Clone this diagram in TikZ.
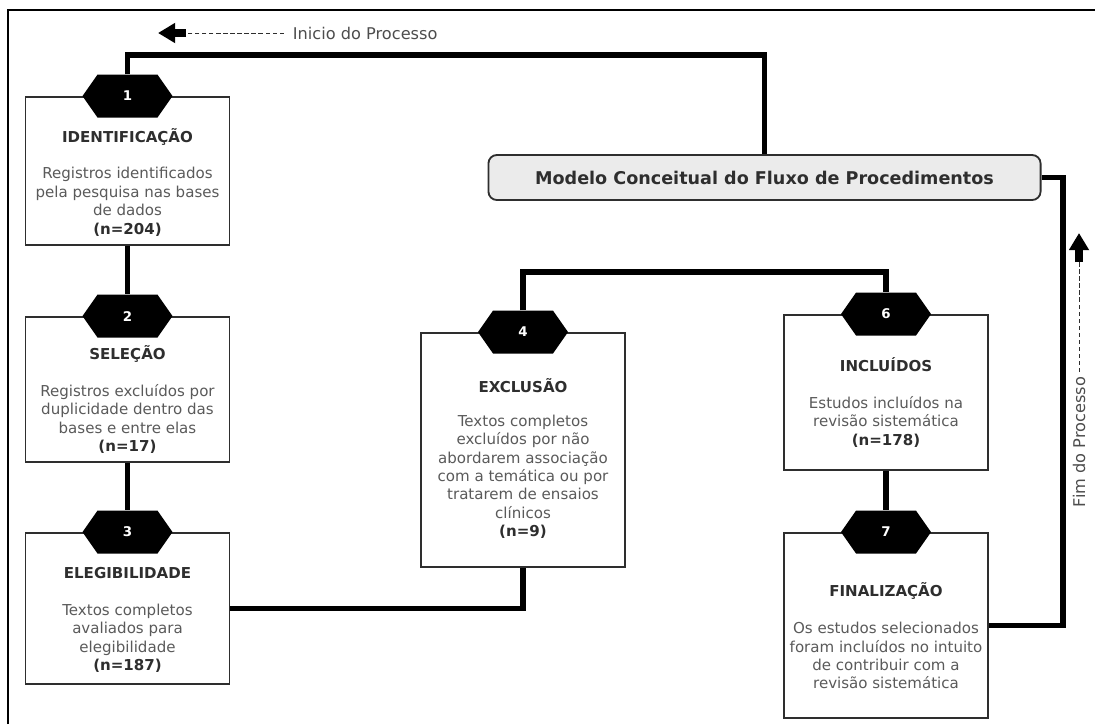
\documentclass[tikz,border=0pt]{standalone}
\usepackage{fontspec}
\setmainfont{DejaVu Sans}
\usetikzlibrary{arrows.meta,shapes.symbols}
\definecolor{boxgray}{HTML}{EBEBEB}
\definecolor{bodygray}{HTML}{5A5A5A}
\definecolor{titlegray}{HTML}{2E2E2E}
\tikzset{
	stepbox/.style={draw=titlegray, line width=1.3pt, minimum width=5.1cm, inner sep=0pt},
	steptext/.style={align=center, text=bodygray, font=\fontsize{10.7}{13.1}\selectfont},
	stepnum/.style={signal, signal to=east and west, signal pointer angle=110, fill=black, text=white, minimum width=2.25cm, minimum height=1.075cm, inner sep=0pt, font=\bfseries\fontsize{9.5}{10}\selectfont},
	link/.style={line width=3.6pt},
	hint/.style={text=titlegray!85, font=\fontsize{11.5}{13}\selectfont},
	hintdash/.style={densely dashed, line width=0.6pt, draw=titlegray},
	hintarrow/.style={line width=2.2mm, -{Triangle[length=4.3mm,width=4.8mm]}}
}
\newcommand{\steptitle}[1]{{\color{titlegray}\bfseries\fontsize{10.7}{13.1}\selectfont #1}}
\newcommand{\nvalue}[1]{{\color{titlegray}\bfseries #1}}
\begin{document}
\begin{tikzpicture}[x=0.025cm, y=-0.025cm]
	\useasboundingbox (0,0) rectangle (1095,724);
	\draw[line width=1.1pt] (8,724) -- (8,10) -- (1095,10);
	% modelo
	\node[draw=titlegray, line width=1.3pt, fill=boxgray, rounded corners=6pt, minimum width=13.8cm, minimum height=1.125cm, text=titlegray, font=\bfseries\fontsize{12.5}{14}\selectfont] (modelo) at (764.5,177.5) {Modelo Conceitual do Fluxo de Procedimentos};
	% etapas
	\node[stepbox, minimum height=3.7cm] (b1) at (127.5,171) {};
	\node[stepbox, minimum height=3.625cm] (b2) at (127.5,389.5) {};
	\node[stepbox, minimum height=3.775cm] (b3) at (127.5,608.5) {};
	\node[stepbox, minimum height=5.85cm] (b4) at (523,450) {};
	\node[stepbox, minimum height=3.875cm] (b6) at (886,392.5) {};
	\node[stepbox, minimum height=4.625cm] (b7) at (886,625.5) {};
	\node[stepnum] (h1) at (b1.north) {1};
	\node[stepnum] (h2) at (b2.north) {2};
	\node[stepnum] (h3) at (b3.north) {3};
	\node[stepnum] (h4) at (b4.north) {4};
	\node[stepnum] (h6) at (b6.north) {6};
	\node[stepnum] (h7) at (b7.north) {7};
	\node[steptext] (t1) at (127.5,182) {\steptitle{IDENTIFICAÇÃO}\\[13pt] Registros identificados\\ pela pesquisa nas bases\\ de dados\\ \nvalue{(n=204)}};
	\node[steptext] (t2) at (127.5,399.5) {\steptitle{SELEÇÃO}\\[13pt] Registros excluídos por\\ duplicidade dentro das\\ bases e entre elas\\ \nvalue{(n=17)}};
	\node[steptext] (t3) at (127.5,620) {\steptitle{ELEGIBILIDADE}\\[13pt] Textos completos\\ avaliados para\\ elegibilidade\\ \nvalue{(n=187)}};
	\node[steptext] (t4) at (523,458.5) {\steptitle{EXCLUSÃO}\\[11pt] Textos completos\\ excluídos por não\\ abordarem associação\\ com a temática ou por\\ tratarem de ensaios\\ clínicos\\ \nvalue{(n=9)}};
	\node[steptext] (t6) at (886,402.5) {\steptitle{INCLUÍDOS}\\[13pt] Estudos incluídos na\\ revisão sistemática\\ \nvalue{(n=178)}};
	\node[steptext] (t7) at (886,636) {\steptitle{FINALIZAÇÃO}\\[13pt] Os estudos selecionados\\ foram incluídos no intuito\\ de contribuir com a\\ revisão sistemática};
	% ligacoes
	\coordinate (c1) at (127.5,55);
	\coordinate (c4) at (523,272);
	\coordinate (c7) at (1063,400);
	\draw[link] (h1.north) -- (c1) -| (modelo.north);
	\draw[link] (b1.south) -- (h2.north);
	\draw[link] (b2.south) -- (h3.north);
	\draw[link] (b3.east) -| (b4.south);
	\draw[link] (h4.north) -- (c4) -| (h6.north);
	\draw[link] (b6.south) -- (h7.north);
	\draw[link] (modelo.east) -| (c7) |- (b7.east);
	% inicio e fim
	\node[hint, anchor=west] (inicio) at (288,33) {Inicio do Processo};
	\coordinate (ia) at (186,33);
	\coordinate (ib) at (158,33);
	\draw[hintdash] ([xshift=-3pt]inicio.west) -- (ia);
	\draw[hintarrow] (ia) -- (ib);
	\node[hint, rotate=90, anchor=west] (fim) at (1079,512) {Fim do Processo};
	\coordinate (fa) at (1079,262);
	\coordinate (fb) at (1079,233);
	\draw[hintdash] (fim.east) -- (fa);
	\draw[hintarrow] (fa) -- (fb);
\end{tikzpicture}
\end{document}
